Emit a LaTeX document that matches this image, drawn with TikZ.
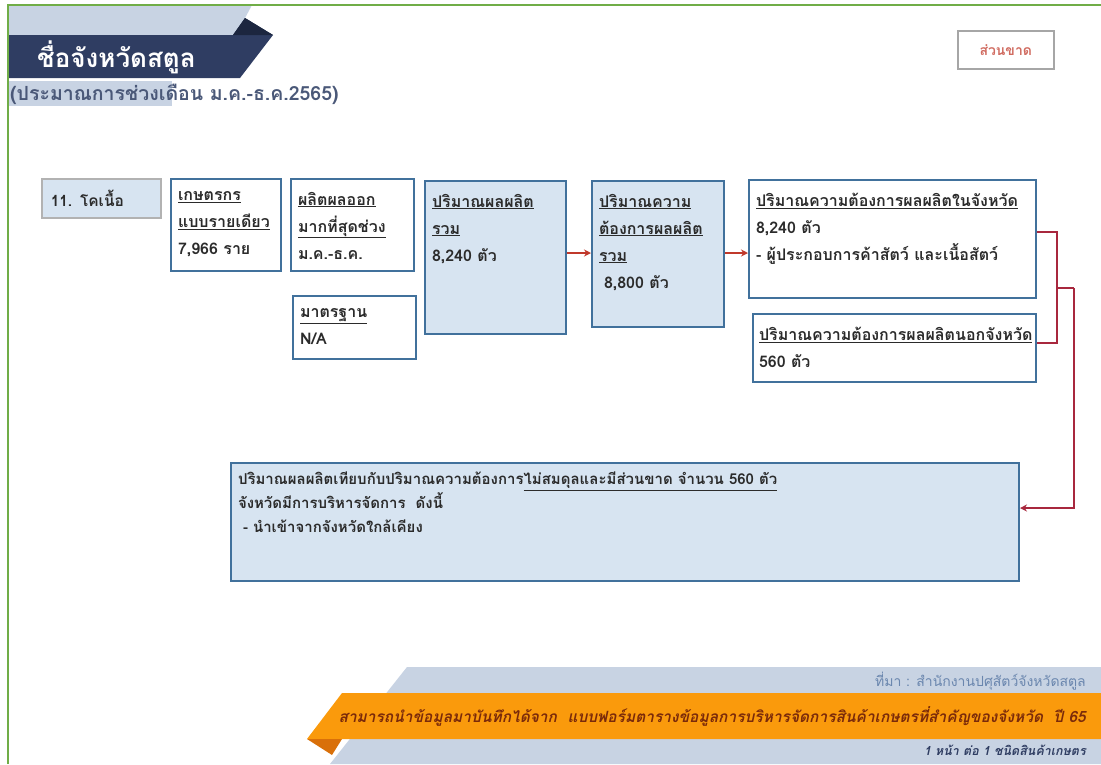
\documentclass[tikz,border=0pt]{standalone}
\usepackage{fontspec}
\setmainfont[Script=Thai]{Loma}
\usepackage{tikz}
\usetikzlibrary{positioning,arrows.meta}

\definecolor{slidegreen}{HTML}{70AD47}
\definecolor{navy}{HTML}{2F3D62}
\definecolor{navyfold}{HTML}{1C263F}
\definecolor{headlight}{HTML}{C8D3E3}
\definecolor{boxblue}{HTML}{41719C}
\definecolor{paleblue}{HTML}{D7E4F1}
\definecolor{inktext}{HTML}{2B2B2B}
\definecolor{flowred}{HTML}{C0392B}
\definecolor{linkred}{HTML}{A8283E}
\definecolor{orangeband}{HTML}{FA9A0C}
\definecolor{orangefold}{HTML}{D9700A}
\definecolor{orangeink}{HTML}{7A2A0A}
\definecolor{periodink}{HTML}{4A5878}
\definecolor{sourceink}{HTML}{6A86AE}

\newcommand{\cellbox}[3]{\parbox[c][#2][t]{#1}{#3}}

\begin{document}
\begin{tikzpicture}[x=1pt, y=-1pt,
		every node/.style = {inner sep=0pt},
		panel/.style = {draw=boxblue, line width=2pt, fill=white, anchor=north west,
			inner xsep=7pt, inner ysep=13pt, align=left,
			font=\fontsize{16}{27}\selectfont\bfseries, text=inktext},
		shaded/.style = {panel, fill=paleblue},
		tagbox/.style = {draw=gray!60, line width=1.5pt, fill=paleblue, anchor=north west,
			inner xsep=9pt, align=left, font=\fontsize{15.5}{25}\selectfont\bfseries, text=inktext},
		flow/.style = {draw=flowred, line width=1.2pt, -{Stealth[length=7pt, width=7pt]}},
		link/.style = {draw=linkred, line width=1.2pt}]
	\useasboundingbox (0,0) rectangle (1101,764);

	% header ribbon
	\fill[headlight] (8,5) -- (252,5) -- (236,35) -- (8,35) -- cycle;
	\fill[navy] (8,35) -- (233,35) -- (245,18) -- (273,35) -- (240,78) -- (8,78) -- cycle;
	\fill[navyfold] (233,35) -- (245,18) -- (273,35) -- cycle;
	\fill[headlight] (8,81) rectangle (172,106);
	\node[anchor=west, font=\fontsize{26}{30}\selectfont\bfseries, text=white] (title) at (37,57) {ชื่อจังหวัดสตูล};
	\node[anchor=west, font=\fontsize{19.5}{22}\selectfont\bfseries, text=periodink] (period) at (10,94) {(ประมาณการช่วงเดือน ม.ค.-ธ.ค.2565)};
	\node[draw=gray!70, line width=1.5pt, anchor=north west, minimum width=96, minimum height=38,
		font=\fontsize{14}{16}\selectfont\bfseries, text=flowred!75] (gapflag) at (957,30) {ส่วนขาด};

	% slide frame
	\draw[slidegreen, line width=2.5pt] (8,764) -- (8,5) -- (1101,5);

	% first row
	\node[tagbox, text width=101pt, minimum height=39pt] (kind) at (41,178) {11. โคเนื้อ};
	\node[panel] (farmers) at (170,178) {\cellbox{96pt}{66pt}{\underline{เกษตรกร}\\ \underline{แบบรายเดียว}\\ 7,966 ราย}};
	\node[panel] (season) at (290,178) {\cellbox{109pt}{66pt}{\underline{ผลิตผลออก}\\ \underline{มากที่สุดช่วง}\\ ม.ค.-ธ.ค.}};
	\node[panel] (standard) at (292,295) {\cellbox{109pt}{37pt}{\underline{มาตรฐาน}\\ N/A}};
	\node[shaded] (total) at (424,180) {\cellbox{127pt}{127pt}{\underline{ปริมาณผลผลิต}\\ \underline{รวม}\\ 8,240 ตัว}};
	\node[shaded] (demand) at (591,180) {\cellbox{118pt}{120pt}{\underline{ปริมาณความ}\\ \underline{ต้องการผลผลิต}\\ \underline{รวม}\\ \hspace*{5pt}8,800 ตัว}};
	\node[panel] (inprov) at (748,179) {\cellbox{273pt}{92pt}{\underline{ปริมาณความต้องการผลผลิตในจังหวัด}\\ 8,240 ตัว\\ - ผู้ประกอบการค้าสัตว์ และเนื้อสัตว์}};
	\node[panel, inner xsep=6pt] (outprov) at (752,313) {\cellbox{271pt}{42pt}{\underline{ปริมาณความต้องการผลผลิตนอกจังหวัด}\\ 560 ตัว}};

	% summary
	\node[shaded, inner ysep=9pt, font=\fontsize{15}{24}\selectfont\bfseries] (summary) at (230,462) {\cellbox{774pt}{100pt}{ปริมาณผลผลิตเทียบกับปริมาณความต้องการ\underline{ไม่สมดุลและมีส่วนขาด จำนวน 560 ตัว}\\ จังหวัดมีการบริหารจัดการ~~ดังนี้\\ \hspace*{5pt}- นำเข้าจากจังหวัดใกล้เคียง}};

	% connectors
	\draw[flow] (total.east |- 0,253) -- (demand.west |- 0,253);
	\draw[flow] (demand.east |- 0,253) -- (inprov.west |- 0,253);
	\coordinate (fork) at (1057,288);
	\coordinate (drop) at (1074,288);
	\draw[link] ([yshift=7pt]inprov.east) -| (fork) |- ([yshift=5pt]outprov.east);
	\draw[link] (fork) -- (drop);
	\draw[flow, draw=linkred] (drop) |- ([yshift=14pt]summary.east);

	% footer ribbon
	\fill[headlight] (407,667) -- (1101,667) -- (1101,764) -- (330,764) -- cycle;
	\fill[orangeband] (342,693) -- (1101,693) -- (1101,739) -- (307,739) -- cycle;
	\fill[orangefold] (307,739) -- (342,739) -- (332,755) -- cycle;
	\node[anchor=east, font=\fontsize{14}{16}\selectfont, text=sourceink] (source) at (1086,681) {ที่มา : สำนักงานปศุสัตว์จังหวัดสตูล};
	\node[anchor=east, font=\fontsize{15.5}{18}\selectfont\bfseries\itshape, text=orangeink] (hint) at (1086,716) {สามารถนำข้อมูลมาบันทึกได้จาก~~แบบฟอร์มตารางข้อมูลการบริหารจัดการสินค้าเกษตรที่สำคัญของจังหวัด~~ปี 65};
	\node[anchor=east, font=\fontsize{12.5}{14}\selectfont\bfseries\itshape, text=navy] (perpage) at (1086,750) {1 หน้า ต่อ 1 ชนิดสินค้าเกษตร};
\end{tikzpicture}
\end{document}
